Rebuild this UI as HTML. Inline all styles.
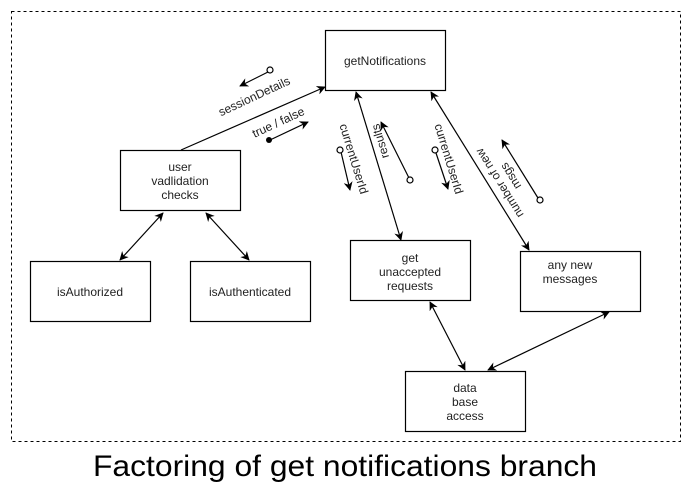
<!DOCTYPE html>
<html><head><style>
html,body{margin:0;padding:0;background:#fff;}
svg{display:block;font-family:"Liberation Sans",Arial,sans-serif;}
</style></head><body>
<svg width="691" height="496" viewBox="0 0 691 496" xmlns="http://www.w3.org/2000/svg">
<defs>
<marker id="a" viewBox="0 0 10 10" refX="9" refY="5" markerWidth="9" markerHeight="9" orient="auto-start-reverse" markerUnits="userSpaceOnUse">
<path d="M0,0 L10,5 L0,10 L3,5 z" fill="#000"/></marker>
</defs>
<rect x="11.5" y="11.5" width="669" height="430" fill="none" stroke="#000" stroke-dasharray="3,3"/>
<g fill="#fff" stroke="#000" stroke-width="1.2">
<rect x="325.5" y="30.5" width="120" height="60"/>
<rect x="120.5" y="150.5" width="120" height="60"/>
<rect x="30.5" y="261.5" width="120" height="60"/>
<rect x="190.5" y="261.5" width="120" height="60"/>
<rect x="350.5" y="240.5" width="120" height="60"/>
<rect x="520.5" y="251.5" width="120" height="60"/>
<rect x="405.5" y="371.5" width="120" height="60"/>
</g>
<g font-size="12" fill="#222" text-anchor="middle">
<text x="385" y="65">getNotifications</text>
<text x="180" y="171">user</text><text x="180" y="185">vadlidation</text><text x="180" y="199">checks</text>
<text x="90" y="296">isAuthorized</text>
<text x="250" y="296">isAuthenticated</text>
<text x="410" y="262">get</text><text x="410" y="276">unaccepted</text><text x="410" y="290">requests</text>
<text x="570" y="269">any new</text><text x="570" y="283">messages</text>
<text x="465" y="392">data</text><text x="465" y="406">base</text><text x="465" y="420">access</text>
</g>
<g stroke="#000" stroke-width="1.2" fill="none">
<line x1="181" y1="150" x2="325" y2="87" marker-end="url(#a)"/>
<line x1="356" y1="92" x2="401" y2="240" marker-start="url(#a)" marker-end="url(#a)"/>
<line x1="431" y1="92" x2="529" y2="250" marker-start="url(#a)" marker-end="url(#a)"/>
<line x1="163" y1="213" x2="120" y2="260" marker-start="url(#a)" marker-end="url(#a)"/>
<line x1="206" y1="213" x2="249" y2="260" marker-start="url(#a)" marker-end="url(#a)"/>
<line x1="430" y1="302" x2="465" y2="370" marker-start="url(#a)" marker-end="url(#a)"/>
<line x1="609" y1="312" x2="488" y2="370" marker-start="url(#a)" marker-end="url(#a)"/>
<line x1="268" y1="72" x2="240" y2="86" marker-end="url(#a)"/>
<line x1="270" y1="140" x2="308" y2="122" marker-end="url(#a)"/>
<line x1="341" y1="152" x2="350" y2="190" marker-end="url(#a)"/>
<line x1="409" y1="178" x2="381" y2="122" marker-end="url(#a)"/>
<line x1="436" y1="153" x2="448" y2="189" marker-end="url(#a)"/>
<line x1="538" y1="198" x2="502" y2="140" marker-end="url(#a)"/>
</g>
<g stroke="#000" stroke-width="1.2" fill="#fff">
<circle cx="270" cy="70" r="3"/>
<circle cx="340" cy="150" r="3"/>
<circle cx="410" cy="180" r="3"/>
<circle cx="435" cy="150" r="3"/>
<circle cx="540" cy="200" r="3"/>
</g>
<circle cx="269" cy="140" r="3" fill="#000"/>
<g font-size="12" fill="#222" text-anchor="middle">
<text transform="translate(256,100) rotate(-25)">sessionDetails</text>
<text transform="translate(280,126) rotate(-25)">true / false</text>
<text transform="translate(350,160) rotate(73)">currentUserId</text>
<text transform="translate(384,140) rotate(-107)" >results</text>
<text transform="translate(445,160) rotate(73)">currentUserId</text>
<text transform="translate(503,181) rotate(-122)">number of new</text>
<text transform="translate(514,174) rotate(-122)">msgs</text>
</g>
<text x="93" y="476" font-size="30" textLength="504" lengthAdjust="spacingAndGlyphs" fill="#000">Factoring of get notifications branch</text>
</svg>
</body></html>
